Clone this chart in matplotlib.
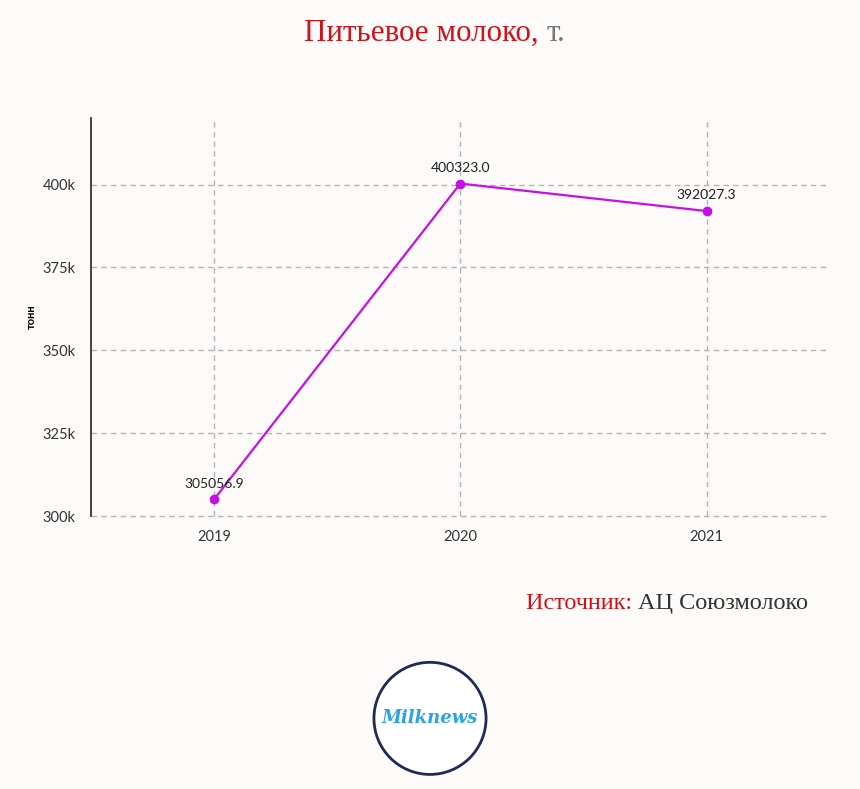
import numpy as np
import matplotlib.pyplot as plt
from matplotlib.patches import Circle

years = ['2019', '2020', '2021']
milk = [305056.9, 400323.0, 392027.3]
yticks = [300000, 325000, 350000, 375000, 400000]
ytick_labels = ['300k', '325k', '350k', '375k', '400k']

bg = '#fcfbf9'
line_color = '#c510e6'
red = '#d0121b'

fig = plt.figure(figsize=(8.6, 7.89), dpi=100, facecolor=bg)
ax = fig.add_axes([0.1058, 0.346, 0.859, 0.504], facecolor=bg)

x = np.arange(len(years))
ax.plot(x, milk, color=line_color, lw=1.6, marker='o', ms=6, zorder=3)
for xi, v in zip(x, milk):
    ax.annotate(f'{v:.1f}', (xi, v), xytext=(0, 7), textcoords='offset points',
                ha='center', va='bottom', fontsize=10, family='Lato', color='#222222')

ax.set_xlim(-0.5, 2.5)
ax.set_ylim(300000, 420000)
ax.set_xticks(x)
ax.set_xticklabels(years)
ax.set_yticks(yticks)
ax.set_yticklabels(ytick_labels)
ax.tick_params(length=0, labelsize=10.5, colors='#333333')
ax.tick_params(axis='y', pad=11)
ax.tick_params(axis='x', pad=10)
for lab in ax.get_xticklabels() + ax.get_yticklabels():
    lab.set_family('Lato')

ax.grid(True, ls=(0, (4, 3)), color='#b5b5b5', lw=1)
for gl in ax.get_ygridlines() + ax.get_xgridlines():
    gl.set_clip_on(False)
ax.set_axisbelow(True)
for s in ['top', 'right', 'bottom']:
    ax.spines[s].set_visible(False)
ax.spines['left'].set_color('#222222')
ax.spines['left'].set_linewidth(1.2)
ax.set_ylabel('тонн', fontsize=8, family='Lato', fontweight='bold', labelpad=4)

fig.canvas.draw()
r = fig.canvas.get_renderer()

def text_row(parts, xc, y, size, align='center'):
    # place coloured pieces side by side
    objs = []
    for s, c in parts:
        objs.append(fig.text(0, y, s, ha='left', va='center', fontsize=size,
                             family='Liberation Serif', color=c))
    widths = [o.get_window_extent(r).width / fig.bbox.width for o in objs]
    total = sum(widths)
    start = xc - total / 2 if align == 'center' else xc - total
    for o, w in zip(objs, widths):
        o.set_x(start)
        start += w

text_row([('Питьевое молоко, ', red), ('т.', '#777777')], 0.505, 0.958, 22.3)
text_row([('Источник: ', red), ('АЦ Союзмолоко', '#333333')], 0.94, 0.235, 17.5, align='right')

# logo
logo = fig.add_axes([0.5 - 0.068, 0.0155, 0.136, 0.148])
logo.set_xlim(-1, 1)
logo.set_ylim(-1, 1)
logo.set_aspect('equal')
logo.axis('off')
logo.add_patch(Circle((0, 0), 0.96, facecolor='white', edgecolor='#1f2a55', lw=2))
logo.text(0, 0, 'Milknews', ha='center', va='center', fontsize=13,
          style='italic', fontweight='bold', color='#2aa3ea', family='DejaVu Serif')

fig.savefig('out.png', dpi=100, facecolor=bg)
